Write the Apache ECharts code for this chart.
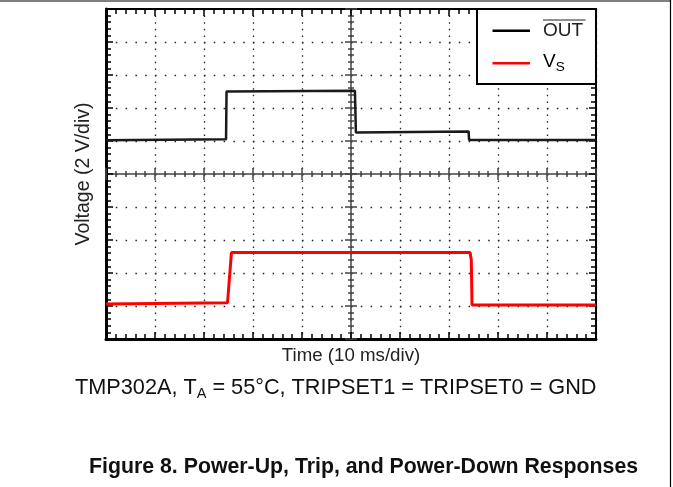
<!DOCTYPE html>
<html>
<head>
<meta charset="utf-8">
<script src="https://cdn.jsdelivr.net/npm/echarts@6/dist/echarts.min.js"></script>
<style>
html, body { margin: 0; padding: 0; background: #fff; }
#chart { width: 673px; height: 487px; }
</style>
</head>
<body>
<div id="chart"></div>
<script>
// time in ms (10 ms/div), voltage in divisions from the bottom (2 V/div)
var outTime  = [0, 24.5, 24.6, 50.8, 51.0, 74.0, 74.1, 100];
var outLevel = [6.02, 6.05, 7.50, 7.52, 6.26, 6.29, 6.03, 6.03];
var vsTime   = [0, 24.8, 25.6, 74.3, 74.55, 74.7, 100];
var vsLevel  = [1.06, 1.10, 2.62, 2.62, 2.40, 1.03, 1.03];

var FONT = 'Liberation Sans, Arial, sans-serif';

var chart = echarts.init(document.getElementById('chart'));

function zip(xs, ys) {
    var out = [];
    for (var i = 0; i < xs.length; i++) out.push([xs[i], ys[i]]);
    return out;
}

// border axes: ticks point inwards
function borderX(pos, width, name) {
    return {
        type: 'value', min: 0, max: 100, interval: 10, position: pos,
        name: name || '', nameLocation: 'middle', nameGap: 7,
        nameTextStyle: { fontFamily: FONT, fontSize: 18.7, color: '#222' },
        axisLine: { onZero: false, lineStyle: { color: '#000', width: width } },
        axisTick: { inside: true, length: 7, lineStyle: { color: '#000', width: 1.5 } },
        minorTick: { show: true, splitNumber: 5, length: 5, lineStyle: { color: '#000', width: 1.5 } },
        axisLabel: { show: false },
        splitLine: { show: pos === 'bottom', lineStyle: { color: '#222', width: 1.3, type: [1.5, 5.1] } }
    };
}
function borderY(pos, width, name) {
    return {
        type: 'value', min: 0, max: 10, interval: 1, position: pos,
        name: name || '', nameLocation: 'middle', nameGap: 12,
        nameTextStyle: { fontFamily: FONT, fontSize: 19.5, color: '#222' },
        axisLine: { onZero: false, lineStyle: { color: '#000', width: width } },
        axisTick: { inside: true, length: 7, lineStyle: { color: '#000', width: 1.5 } },
        minorTick: { show: true, splitNumber: 5, length: 5, lineStyle: { color: '#000', width: 1.5 } },
        axisLabel: { show: false },
        splitLine: { show: pos === 'left', lineStyle: { color: '#222', width: 1.3, type: [1.5, 8.3] } }
    };
}
// centre cross: one axis for ticks on each side
function centreX(inside, showLine) {
    return {
        type: 'value', min: 0, max: 100, interval: 10, position: 'bottom', offset: -165,
        axisLine: { show: showLine, onZero: false, lineStyle: { color: '#444', width: 1.5 } },
        axisTick: { inside: inside, length: 6, lineStyle: { color: '#444', width: 1.5 } },
        minorTick: { show: true, splitNumber: 5, length: 3, lineStyle: { color: '#444', width: 1.5 } },
        axisLabel: { show: false }, splitLine: { show: false }
    };
}
function centreY(inside, showLine) {
    return {
        type: 'value', min: 0, max: 10, interval: 1, position: 'left', offset: -245,
        axisLine: { show: showLine, onZero: false, lineStyle: { color: '#444', width: 1.5 } },
        axisTick: { inside: inside, length: 6, lineStyle: { color: '#444', width: 1.5 } },
        minorTick: { show: true, splitNumber: 5, length: 3, lineStyle: { color: '#444', width: 1.5 } },
        axisLabel: { show: false }, splitLine: { show: false }
    };
}

var option = {
    backgroundColor: '#fff',
    animation: false,
    grid: { left: 106, top: 9, width: 490, height: 330 },
    title: [{
        text: 'TMP302A, T{s|A} = 55°C, TRIPSET1 = TRIPSET0 = GND',
        left: 70, top: 370,
        textStyle: {
            fontFamily: FONT, fontSize: 21.7, fontWeight: 'normal', color: '#111',
            rich: {
                s: { fontFamily: FONT, fontSize: 14.5, color: '#111', padding: [11, 0, 0, 0] }
            }
        }
    }, {
        text: 'Figure 8. Power-Up, Trip, and Power-Down Responses',
        left: 84, top: 452,
        textStyle: { fontFamily: FONT, fontSize: 21.3, fontWeight: 'bold', color: '#111' }
    }],
    xAxis: [
        borderX('bottom', 3, 'Time (10 ms/div)'),
        borderX('top', 2),
        centreX(true, true),
        centreX(false, false)
    ],
    yAxis: [
        borderY('left', 3, 'Voltage (2 V/div)'),
        borderY('right', 2),
        centreY(true, true),
        centreY(false, false)
    ],
    series: [{
        name: 'OUT',
        type: 'line',
        data: zip(outTime, outLevel),
        showSymbol: false,
        lineStyle: { color: '#1a1a1a', width: 2.5 },
        z: 5
    }, {
        name: 'VS',
        type: 'line',
        data: zip(vsTime, vsLevel),
        showSymbol: false,
        lineStyle: { color: '#ff0000', width: 3 },
        z: 5
    }],
    graphic: [
        // page frame
        { type: 'line', shape: { x1: 0, y1: 1, x2: 670, y2: 1 }, style: { stroke: '#000', lineWidth: 1.2 } },
        { type: 'line', shape: { x1: 670.5, y1: 0, x2: 670.5, y2: 487 }, style: { stroke: '#000', lineWidth: 1.2 } },
        // legend box
        { type: 'rect', z: 100, shape: { x: 477, y: 9, width: 119, height: 75 },
          style: { fill: '#fff', stroke: '#000', lineWidth: 2 } },
        { type: 'line', z: 101, shape: { x1: 492.5, y1: 30.7, x2: 530, y2: 30.7 },
          style: { stroke: '#000', lineWidth: 2.5 } },
        { type: 'text', z: 101, x: 543, y: 31,
          style: { text: 'OUT', font: '19px ' + FONT, fill: '#222', verticalAlign: 'middle' } },
        { type: 'line', z: 101, shape: { x1: 543, y1: 20, x2: 585.5, y2: 20 },
          style: { stroke: '#222', lineWidth: 1 } },
        { type: 'line', z: 101, shape: { x1: 492.5, y1: 63.3, x2: 530, y2: 63.3 },
          style: { stroke: '#ff0000', lineWidth: 2.5 } },
        { type: 'text', z: 101, x: 543, y: 52,
          style: {
              text: '{v|V}{s|S}',
              rich: {
                  v: { fontFamily: FONT, fontSize: 19, color: '#222', verticalAlign: 'top' },
                  s: { fontFamily: FONT, fontSize: 13.5, color: '#222', verticalAlign: 'top', padding: [8, 0, 0, 0] }
              }
          } }
    ]
};

chart.setOption(option);
</script>
</body>
</html>
